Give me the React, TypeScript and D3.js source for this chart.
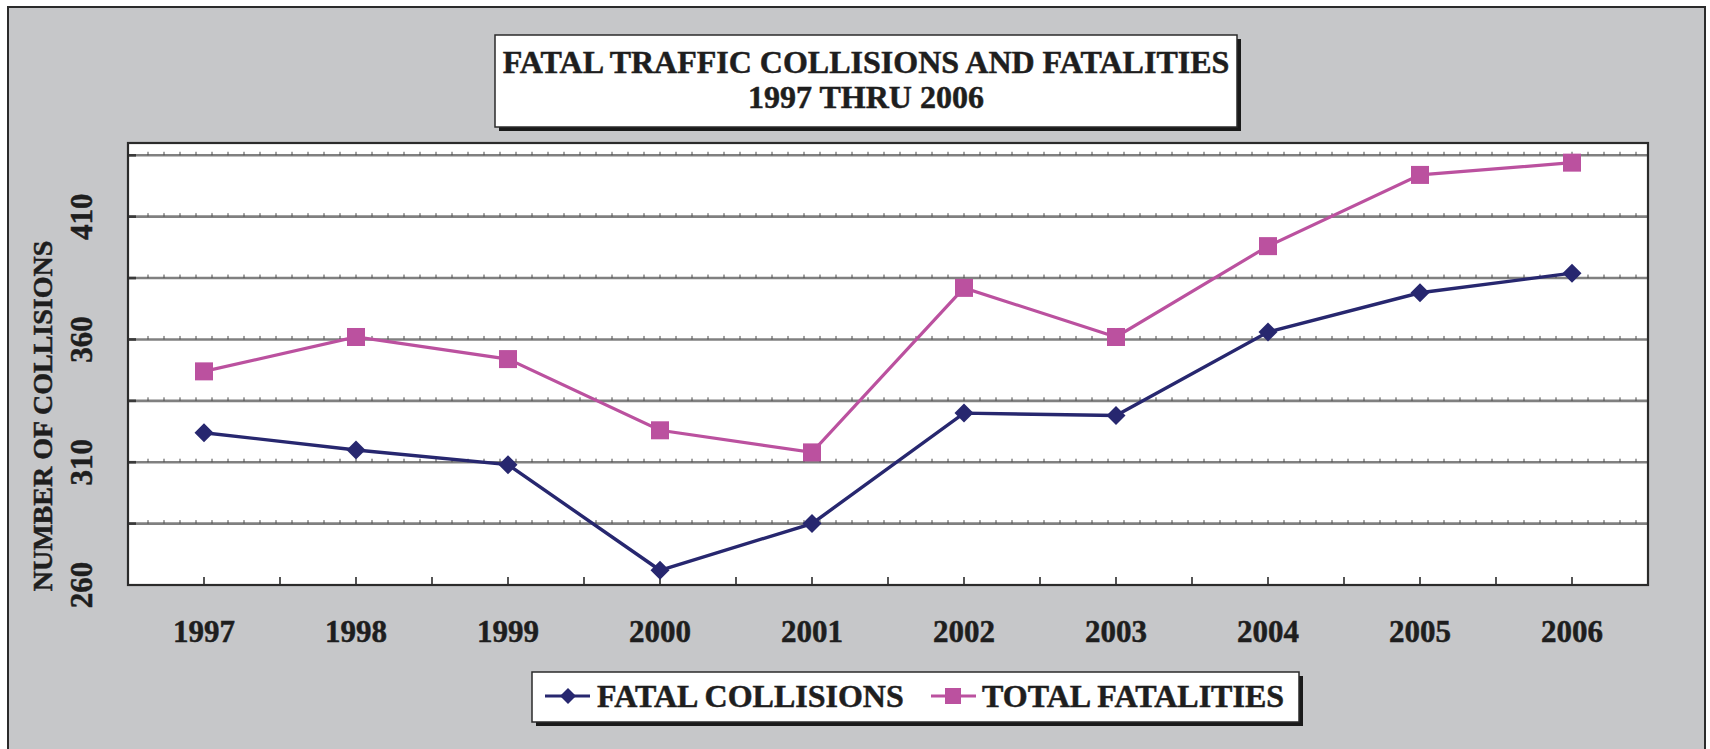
import React from 'react';
import * as d3 from 'd3';

const years = ['1997', '1998', '1999', '2000', '2001', '2002', '2003', '2004', '2005', '2006'];
const fatalCollisions = [322, 315, 309, 266, 285, 330, 329, 363, 379, 387];
const totalFatalities = [347, 361, 352, 323, 314, 381, 361, 398, 427, 432];
const yTickLabels = [260, 310, 360, 410];
const gridValues = [285, 310, 335, 360, 385, 410, 435];

const W = 1710, H = 749;
const plot = { left: 128, top: 143, right: 1648, bottom: 585 };
const NAVY = '#27276f';
const PINK = '#bb519f';
const INK = '#1e1e1e';
const FONT = '"Liberation Serif", "Times New Roman", serif';

export default function App() {
  const x = d3.scaleBand().domain(years).range([plot.left, plot.right]).padding(0);
  const cx = (d: string) => (x(d) as number) + x.bandwidth() / 2;
  const y = d3.scaleLinear().domain([260, 440]).range([plot.bottom, plot.top]);

  const line = d3.line<number>().x((_, i) => cx(years[i])).y(d => y(d));

  // small ticks sitting on every gridline
  const minor = d3.range(plot.left + 20, plot.right, 16);
  // x ticks at centres and at band edges
  const xTicks = [...years.map(cx), ...years.slice(1).map(d => x(d) as number)];

  const diamond = (px: number, py: number, r: number) =>
    `M${px},${py - r}L${px + r},${py}L${px},${py + r}L${px - r},${py}Z`;

  const txt = { fill: INK, stroke: INK, strokeWidth: 0.5 };

  return (
    <svg width={W} height={H} style={{ position: 'absolute', left: 0, top: 0, display: 'block' }}
      fontFamily={FONT} fontWeight="bold">
      <rect x={0} y={0} width={W} height={H} fill="#fff" />
      <rect x={8} y={7} width={1697} height={800} fill="#c6c7c9" stroke="#2b2b2b" strokeWidth={2} />

      {/* title */}
      <rect x={499} y={39} width={742} height={92} fill="#1a1a1a" />
      <rect x={495} y={35} width={742} height={92} fill="#fff" stroke="#2b2b2b" strokeWidth={1.5} />
      <text x={866} y={73} textAnchor="middle" fontSize={32} {...txt}>FATAL TRAFFIC COLLISIONS AND FATALITIES</text>
      <text x={866} y={108} textAnchor="middle" fontSize={32} {...txt}>1997 THRU 2006</text>

      {/* plot area */}
      <rect x={plot.left} y={plot.top} width={plot.right - plot.left} height={plot.bottom - plot.top} fill="#fff" />
      {gridValues.map(v => (
        <g key={v}>
          <line x1={plot.left} x2={plot.right} y1={y(v)} y2={y(v)} stroke="#808080" strokeWidth={2.6} />
          {minor.map(m => (
            <line key={m} x1={m} x2={m} y1={y(v) - 3.5} y2={y(v)} stroke="#4a4a4a" strokeWidth={1} />
          ))}
          <line x1={plot.left} x2={plot.left + 8} y1={y(v)} y2={y(v)} stroke="#3a3a3a" strokeWidth={2.6} />
        </g>
      ))}
      {xTicks.map((t, i) => (
        <line key={i} x1={t} x2={t} y1={plot.bottom} y2={plot.bottom - 8} stroke="#2b2b2b" strokeWidth={1.6} />
      ))}
      <rect x={plot.left} y={plot.top} width={plot.right - plot.left} height={plot.bottom - plot.top}
        fill="none" stroke="#2b2b2b" strokeWidth={2.2} />

      {/* series */}
      <path d={line(totalFatalities) || ''} fill="none" stroke={PINK} strokeWidth={3.2} />
      <path d={line(fatalCollisions) || ''} fill="none" stroke={NAVY} strokeWidth={3.4} />
      {totalFatalities.map((v, i) => (
        <rect key={i} x={cx(years[i]) - 9} y={y(v) - 9} width={18} height={18} fill={PINK} />
      ))}
      {fatalCollisions.map((v, i) => (
        <path key={i} d={diamond(cx(years[i]), y(v), 9.5)} fill={NAVY} />
      ))}

      {/* y axis */}
      {yTickLabels.map(v => (
        <text key={v} transform={`translate(92,${y(v)}) rotate(-90)`} textAnchor="middle" fontSize={31} {...txt}>{v}</text>
      ))}
      <text transform="translate(52,416) rotate(-90)" textAnchor="middle" fontSize={28} {...txt}>NUMBER OF COLLISIONS</text>

      {/* x axis labels */}
      {years.map(d => (
        <text key={d} x={cx(d)} y={642} textAnchor="middle" fontSize={31} {...txt}>{d}</text>
      ))}

      {/* legend */}
      <rect x={536} y={676} width={767} height={50} fill="#1a1a1a" />
      <rect x={532} y={672} width={767} height={50} fill="#fff" stroke="#2b2b2b" strokeWidth={1.5} />
      <line x1={545} x2={590} y1={696} y2={696} stroke={NAVY} strokeWidth={3} />
      <path d={diamond(568, 696, 8)} fill={NAVY} />
      <text x={597} y={707} fontSize={32} {...txt}>FATAL COLLISIONS</text>
      <line x1={931} x2={976} y1={696} y2={696} stroke={PINK} strokeWidth={3} />
      <rect x={945} y={688} width={16} height={16} fill={PINK} />
      <text x={982} y={707} fontSize={32} {...txt}>TOTAL FATALITIES</text>
    </svg>
  );
}
